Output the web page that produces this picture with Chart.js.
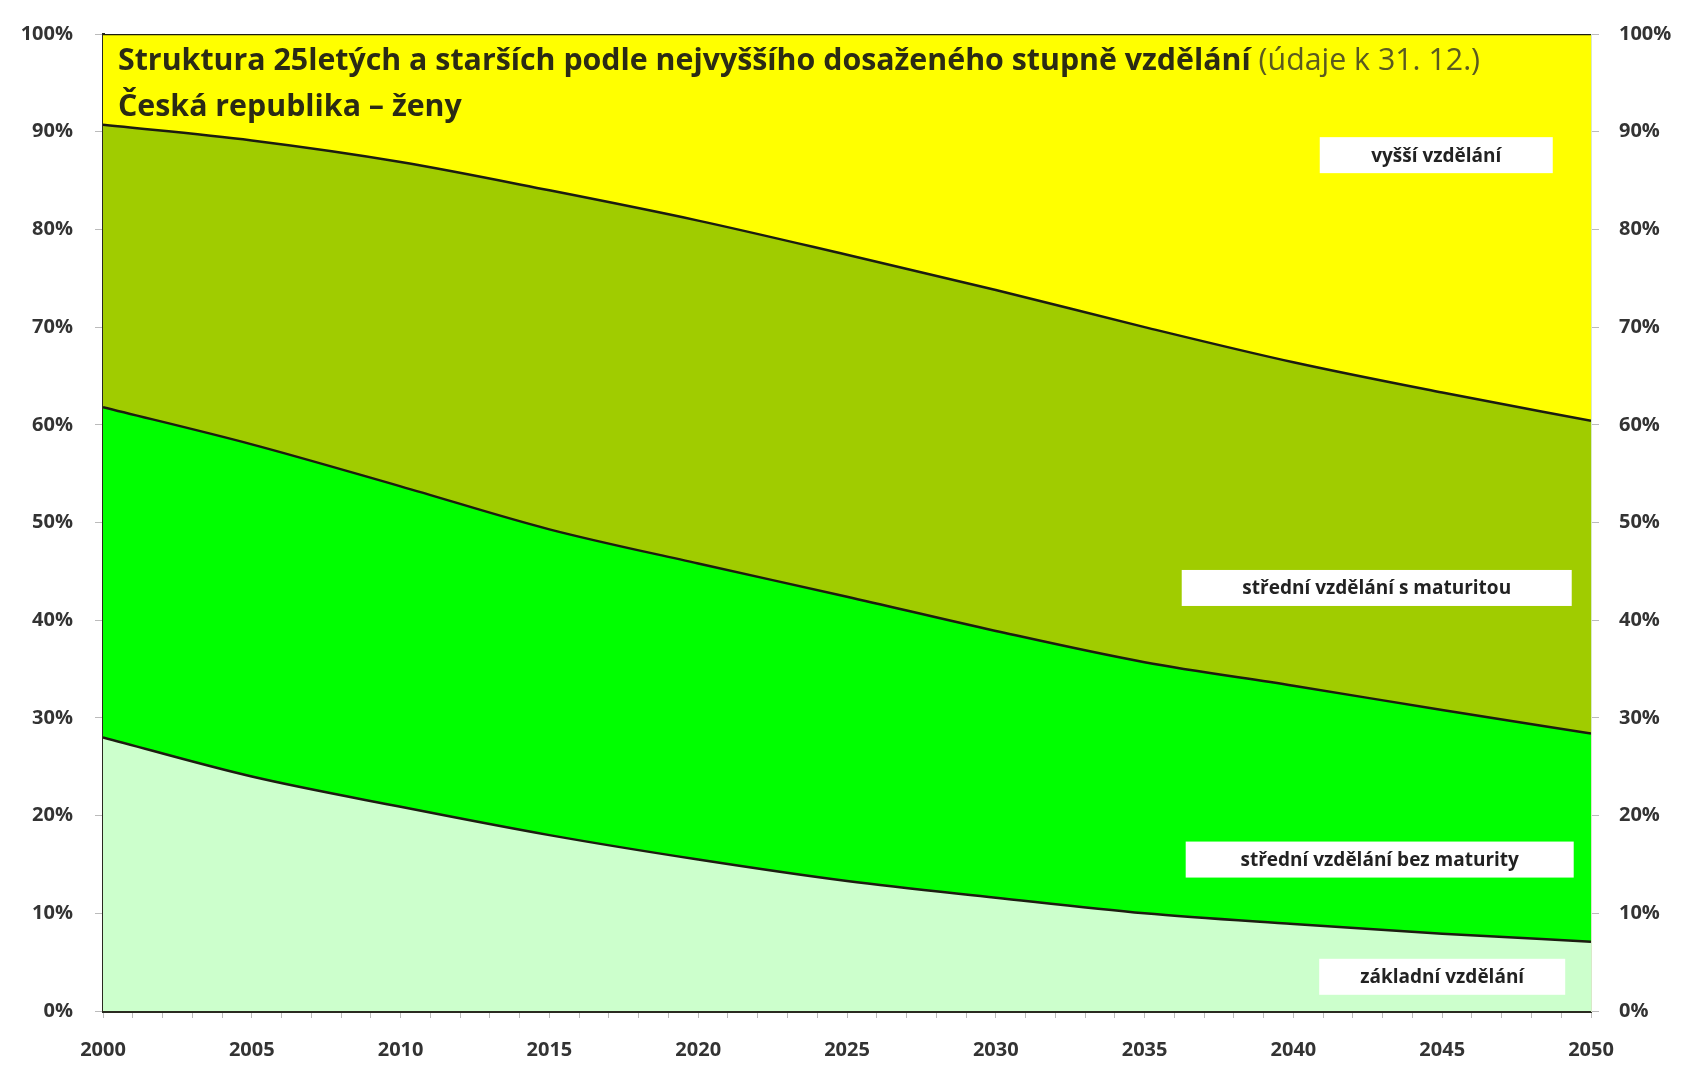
<!DOCTYPE html>
<html>
<head>
<meta charset="utf-8">
<script src="https://cdn.jsdelivr.net/npm/chart.js@4/dist/chart.umd.min.js"></script>
<style>
  html, body { margin: 0; padding: 0; background: #fff; }
  #wrap { width: 1682px; height: 1067px; position: relative; }
</style>
</head>
<body>
<div id="wrap"><canvas id="chart"></canvas></div>
<script>
// years of the projection
const years = [2000, 2005, 2010, 2015, 2020, 2025, 2030, 2035, 2040, 2045, 2050];

// shares in % (women 25+)
const zakladni = [28.0, 24.0, 20.9, 18.0, 15.5, 13.3, 11.6, 10.0, 8.9, 7.9, 7.1];
const bezMaturity = [33.8, 34.0, 32.8, 31.3, 30.3, 29.1, 27.3, 25.7, 24.4, 22.9, 21.3];
const sMaturitou = [28.9, 31.1, 33.2, 34.7, 35.1, 35.0, 34.9, 34.3, 33.1, 32.5, 32.0];
const vyssi = [9.3, 10.9, 13.1, 16.0, 19.1, 22.6, 26.2, 30.0, 33.6, 36.7, 39.6];

const seriesNames = ['základní vzdělání', 'střední vzdělání bez maturity', 'střední vzdělání s maturitou', 'vyšší vzdělání'];
const yTicks = [0, 10, 20, 30, 40, 50, 60, 70, 80, 90, 100];

const titleBold = 'Struktura 25letých a starších podle nejvyššího dosaženého stupně vzdělání';
const titleNormal = ' (údaje k 31. 12.)';
const subtitle = 'Česká republika – ženy';

const FONT = '"Open Sans", Lato, sans-serif';

// label boxes: anchored in data units (year, %)
const boxes = [
  { text: seriesNames[3], x: 2044.8, y: 87.6, w: 233 },
  { text: seriesNames[2], x: 2042.8, y: 43.3, w: 390 },
  { text: seriesNames[1], x: 2042.9, y: 15.5, w: 388 },
  { text: seriesNames[0], x: 2045.0, y: 3.5, w: 246 }
];

function pts(arr) {
  return years.map((yr, i) => ({ x: yr, y: arr[i] }));
}

function makeSet(label, arr, color, fill) {
  return {
    label,
    data: pts(arr),
    backgroundColor: color,
    borderColor: '#1c1c10',
    borderWidth: 2.5,
    fill,
    pointRadius: 0,
    cubicInterpolationMode: 'monotone'
  };
}

const overlay = {
  id: 'overlay',
  afterDatasetsDraw(chart) {
    const { ctx, chartArea, scales } = chart;
    ctx.save();
    // title inside plot, sized to span like the original
    const target = 1363;
    ctx.font = 'bold 26px ' + FONT;
    const wb = ctx.measureText(titleBold).width;
    ctx.font = '26px ' + FONT;
    const wn = ctx.measureText(titleNormal).width;
    const size = Math.min(32, 26 * target / (wb + wn));

    ctx.textBaseline = 'alphabetic';
    ctx.textAlign = 'left';
    const tx = chartArea.left + 15;
    ctx.font = 'bold ' + size + 'px ' + FONT;
    ctx.fillStyle = '#2b2b14';
    ctx.fillText(titleBold, tx, chartArea.top + 36);
    const w = ctx.measureText(titleBold).width;
    ctx.font = size + 'px ' + FONT;
    ctx.fillStyle = '#5a5a20';
    ctx.fillText(titleNormal, tx + w, chartArea.top + 36);
    ctx.font = 'bold ' + size + 'px ' + FONT;
    ctx.fillStyle = '#2b2b14';
    ctx.fillText(subtitle, tx, chartArea.top + 82);

    // white label boxes
    ctx.font = 'bold 19px ' + FONT;
    ctx.textAlign = 'center';
    ctx.textBaseline = 'middle';
    boxes.forEach(b => {
      const cx = scales.x.getPixelForValue(b.x);
      const cy = scales.y.getPixelForValue(b.y);
      ctx.fillStyle = '#ffffff';
      ctx.fillRect(cx - b.w / 2, cy - 18, b.w, 36);
      ctx.fillStyle = '#222';
      ctx.fillText(b.text, cx, cy + 1);
    });
    ctx.restore();
  }
};

const tickFont = { family: FONT, size: 20, weight: 'bold' };

new Chart(document.getElementById('chart'), {
  type: 'line',
  data: {
    datasets: [
      makeSet(seriesNames[0], zakladni, '#ccffcc', 'origin'),
      makeSet(seriesNames[1], bezMaturity, '#00ff00', '-1'),
      makeSet(seriesNames[2], sMaturitou, '#a0cc00', '-1'),
      makeSet(seriesNames[3], vyssi, '#ffff00', '-1')
    ]
  },
  options: {
    responsive: true,
    maintainAspectRatio: false,
    animation: false,
    layout: { padding: { top: 27, left: 0, right: 0, bottom: 0 } },
    plugins: { legend: { display: false }, tooltip: { enabled: false } },
    scales: {
      x: {
        type: 'linear',
        min: 2000,
        max: 2050,
        afterFit: s => { s.height = 56; },
        ticks: {
          stepSize: 1,
          autoSkip: false,
          maxRotation: 0,
          padding: 20,
          color: '#333',
          font: { family: FONT, size: 20, weight: 'bold' },
          callback: v => (v % 5 === 0 ? String(v) : '')
        },
        grid: { drawOnChartArea: false, tickLength: 7, color: '#bbbbbb' },
        border: { display: true, color: '#2a2a20', width: 3 }
      },
      y: {
        stacked: true,
        min: 0,
        max: 100,
        afterFit: s => { s.width = 103; },
        afterBuildTicks: s => { s.ticks = yTicks.map(v => ({ value: v })); },
        ticks: {
          padding: 22,
          color: '#333',
          font: tickFont,
          callback: v => v + '%'
        },
        grid: { drawOnChartArea: false, tickLength: 8, color: '#bbbbbb' },
        border: { display: true, color: '#2a2a20', width: 3 }
      },
      y2: {
        position: 'right',
        min: 0,
        max: 100,
        afterFit: s => { s.width = 91; },
        afterBuildTicks: s => { s.ticks = yTicks.map(v => ({ value: v })); },
        ticks: {
          padding: 20,
          color: '#333',
          font: tickFont,
          callback: v => v + '%'
        },
        grid: { drawOnChartArea: false, tickLength: 8, color: '#bbbbbb' },
        border: { display: true, color: '#d8e8c8', width: 1 }
      }
    }
  },
  plugins: [overlay]
});
</script>
</body>
</html>
